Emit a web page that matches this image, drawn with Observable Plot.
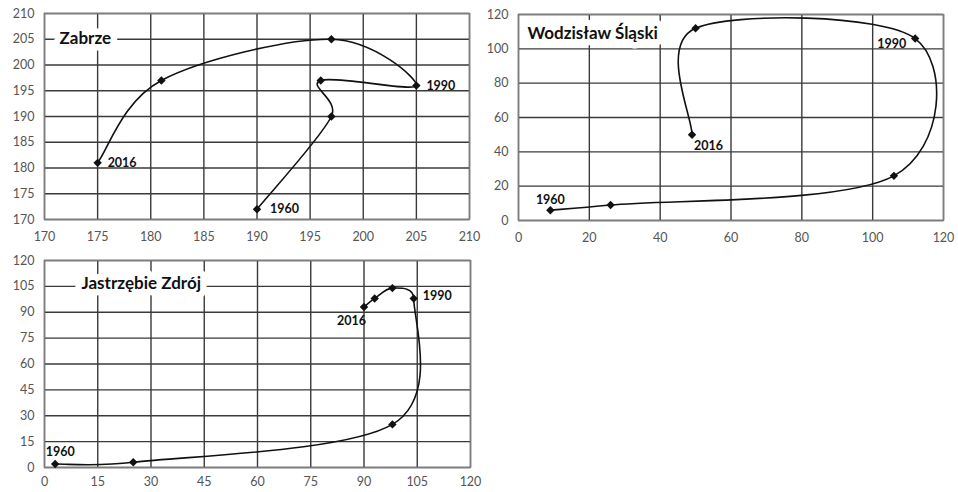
<!DOCTYPE html>
<html><head><meta charset="utf-8">
<script src="https://cdn.jsdelivr.net/npm/d3@7"></script>
<script src="https://cdn.jsdelivr.net/npm/@observablehq/plot@0.6"></script>
<style>
body{margin:0;background:#fff;}
#wrap{position:relative;width:958px;height:492px;overflow:hidden;background:#fff;}
.panel{position:absolute;}
</style></head><body><div id="wrap"></div>
<script>
// ---- data ----
const zabrzeTitle = "Zabrze";
const zabrzeYears = [1960, 1970, 1980, 1990, 2000, 2010, 2016];
const zabrzeX = [190, 197, 196, 205, 197, 181, 175];
const zabrzeY = [172, 190, 197, 196, 205, 197, 181];
const zabrzeTicks = [170, 175, 180, 185, 190, 195, 200, 205, 210];

const wodzTitle = "Wodzisław Śląski";
const wodzYears = [1960, 1970, 1980, 1990, 2000, 2016];
const wodzX = [9, 26, 106, 112, 50, 49];
const wodzY = [6, 9, 26, 106, 112, 50];
const wodzTicks = [0, 20, 40, 60, 80, 100, 120];

const jastTitle = "Jastrzębie Zdrój";
const jastYears = [1960, 1970, 1980, 1990, 2000, 2010, 2016];
const jastX = [3, 25, 98, 104, 98, 93, 90];
const jastY = [2, 3, 25, 98, 104, 98, 93];
const jastTicks = [0, 15, 30, 45, 60, 75, 90, 105, 120];

const labelYears = [1960, 1990, 2016];

// ---- drawing ----
const FONT = "Lato, 'Open Sans', sans-serif";
const wrap = document.getElementById("wrap");

// spreadsheet-style smoothed line: cardinal Bezier whose handles are limited
// to half of the segment they belong to
function smoothCurve(context) {
  let pts;
  const K = 0.5;
  return {
    areaStart() {}, areaEnd() {},
    lineStart() { pts = []; },
    point(x, y) { pts.push([+x, +y]); },
    lineEnd() {
      const n = pts.length;
      if (!n) return;
      context.moveTo(pts[0][0], pts[0][1]);
      for (let i = 0; i < n - 1; i++) {
        const p0 = pts[Math.max(i - 1, 0)], p1 = pts[i], p2 = pts[i + 1], p3 = pts[Math.min(i + 2, n - 1)];
        const len = Math.hypot(p2[0] - p1[0], p2[1] - p1[1]);
        const clamp = v => {
          const l = Math.hypot(v[0], v[1]), m = K * len;
          return l > m ? [v[0] * m / l, v[1] * m / l] : v;
        };
        const c1 = clamp([(p2[0] - p0[0]) / 6, (p2[1] - p0[1]) / 6]);
        const c2 = clamp([(p3[0] - p1[0]) / 6, (p3[1] - p1[1]) / 6]);
        context.bezierCurveTo(p1[0] + c1[0], p1[1] + c1[1], p2[0] - c2[0], p2[1] - c2[1], p2[0], p2[1]);
      }
    }
  };
}

function panel(cfg) {
  const pts = cfg.xs.map((x, i) => ({x, y: cfg.ys[i], year: cfg.years[i]}));
  const ticks = cfg.ticks;
  const domain = d3.extent(ticks);
  const labelMarks = labelYears.map(yr => {
    const s = cfg.labelStyle[yr];
    return Plot.text(pts.filter(d => d.year === yr), {
      x: "x", y: "y", text: d => String(d.year),
      dx: s.dx, dy: s.dy, textAnchor: s.anchor,
      fontWeight: "bold", fontSize: 12.5, fill: "#111", fontFamily: FONT
    });
  });
  const chart = Plot.plot({
    width: cfg.width, height: cfg.height,
    marginLeft: cfg.m[0], marginRight: cfg.m[1], marginTop: cfg.m[2], marginBottom: cfg.m[3],
    style: {background: "transparent", fontFamily: FONT, color: "#555", overflow: "visible"},
    x: {domain, label: null},
    y: {domain, label: null},
    marks: [
      Plot.gridX(ticks, {stroke: "#3a3a3a", strokeOpacity: 1, strokeWidth: 1.4}),
      Plot.gridY(ticks, {stroke: "#3a3a3a", strokeOpacity: 1, strokeWidth: 1.4}),
      Plot.frame({stroke: "#7d7d7d", strokeWidth: 1.4}),
      Plot.axisX(ticks, {tickSize: 0, tickPadding: cfg.xPad, fontSize: 12.5, fill: "#555", label: null}),
      Plot.axisY(ticks, {tickSize: 0, tickPadding: 10, fontSize: 12.5, fill: "#555", label: null}),
      Plot.text([cfg.title], {
        frameAnchor: "top-left", dx: cfg.titlePos[0], dy: cfg.titlePos[1],
        textAnchor: "start", lineAnchor: "middle",
        fontWeight: "bold", fontSize: 17, fill: "#111", fontFamily: FONT,
        stroke: "white", strokeWidth: 13, strokeLinejoin: "round", paintOrder: "stroke"
      }),
      Plot.line(pts, {x: "x", y: "y", curve: smoothCurve, stroke: "#111", strokeWidth: 1.6}),
      Plot.dot(pts, {x: "x", y: "y", symbol: "diamond2", r: 3.8, fill: "#111", stroke: "none"}),
      ...labelMarks
    ]
  });
  chart.classList.add("panel");
  chart.style.left = cfg.left + "px";
  chart.style.top = cfg.top + "px";
  wrap.appendChild(chart);
}

panel({
  title: zabrzeTitle, xs: zabrzeX, ys: zabrzeY, years: zabrzeYears, ticks: zabrzeTicks,
  left: 0, top: 0, width: 480, height: 250, m: [44, 11, 13, 31], xPad: 13,
  titlePos: [15, 25],
  labelStyle: {
    1960: {dx: 13, dy: 0, anchor: "start"},
    1990: {dx: 10, dy: 0, anchor: "start"},
    2016: {dx: 10, dy: 0, anchor: "start"}
  }
});

panel({
  title: wodzTitle, xs: wodzX, ys: wodzY, years: wodzYears, ticks: wodzTicks,
  left: 480, top: 0, width: 478, height: 250, m: [38, 15, 14, 30], xPad: 13,
  titlePos: [9, 19],
  labelStyle: {
    1960: {dx: 0, dy: -10, anchor: "middle"},
    1990: {dx: -9, dy: 5, anchor: "end"},
    2016: {dx: 2, dy: 11, anchor: "start"}
  }
});

panel({
  title: jastTitle, xs: jastX, ys: jastY, years: jastYears, ticks: jastTicks,
  left: 0, top: 250, width: 480, height: 242, m: [44, 10, 10, 25], xPad: 10,
  titlePos: [37, 23],
  labelStyle: {
    1960: {dx: 5, dy: -12, anchor: "middle"},
    1990: {dx: 9, dy: -2, anchor: "start"},
    2016: {dx: 2, dy: 14, anchor: "end"}
  }
});
</script>
</body></html>
